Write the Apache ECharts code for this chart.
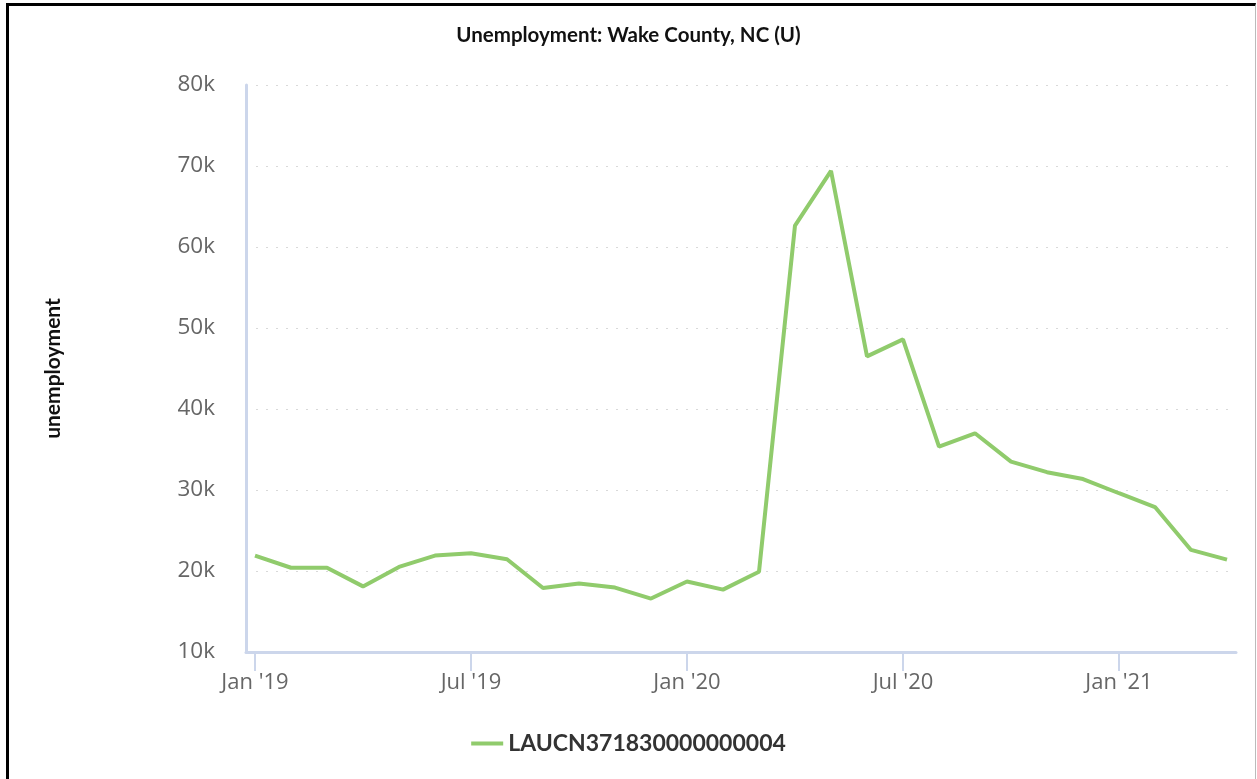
<!DOCTYPE html>
<html>
<head>
<meta charset="utf-8">
<script src="https://cdn.jsdelivr.net/npm/echarts@6/dist/echarts.min.js"></script>
<style>
html,body{margin:0;padding:0;background:#fff;}
#chart{position:absolute;left:0;top:0;width:1257px;height:779px;}
#frame{position:absolute;left:6px;top:3px;width:1246px;height:800px;border-left:3px solid #000;border-top:3px solid #000;border-right:1px solid #bbb;pointer-events:none;}
</style>
</head>
<body>
<div id="chart"></div>
<div id="frame"></div>
<script>
const months = ["Jan '19","Feb '19","Mar '19","Apr '19","May '19","Jun '19","Jul '19","Aug '19","Sep '19","Oct '19","Nov '19","Dec '19",
  "Jan '20","Feb '20","Mar '20","Apr '20","May '20","Jun '20","Jul '20","Aug '20","Sep '20","Oct '20","Nov '20","Dec '20",
  "Jan '21","Feb '21","Mar '21","Apr '21"];
const unemployment = [21900,20400,20400,18100,20500,21900,22200,21450,17900,18450,17950,16600,
  18700,17700,19900,62650,69400,46500,48600,35350,37000,33500,32200,31350,
  29600,27900,22600,21400];
const xTickIndex = [0,6,12,18,24];
const seriesName = "LAUCN371830000000004";

const chart = echarts.init(document.getElementById('chart'), null, {renderer:'canvas'});
const boldFam = "Lato, 'Open Sans', sans-serif";
const tickFam = "'Open Sans', sans-serif";
chart.setOption({
  animation:false,
  title:{text:"Unemployment: Wake County, NC (U)", left:'center', top:20,
    textStyle:{fontFamily:boldFam, fontSize:20.5, fontWeight:'bold', color:'#111'}},
  legend:{bottom:19, left:'center', itemWidth:32, itemHeight:4, itemGap:10,
    icon:'rect',
    textStyle:{fontFamily:boldFam, fontSize:23, fontWeight:'bold', color:'#333'},
    data:[seriesName]},
  grid:{left:246, right:21, top:85, bottom:127, containLabel:false},
  xAxis:{type:'value', min:-0.25, max:27.25,
    axisLine:{show:true, onZero:false, lineStyle:{color:'#ccd6eb', width:3}},
    axisTick:{show:true, customValues:xTickIndex, length:19, lineStyle:{color:'#ccd6eb', width:2}},
    axisLabel:{customValues:xTickIndex, formatter:v=>months[Math.round(v)], margin:20,
      fontFamily:tickFam, fontSize:22, color:'#666'},
    splitLine:{show:false}},
  yAxis:{type:'value', min:10000, max:80000, interval:10000,
    name:'unemployment', nameLocation:'middle', nameGap:182, nameRotate:90,
    nameTextStyle:{fontFamily:boldFam, fontSize:21, fontWeight:'bold', color:'#111'},
    axisLine:{show:true, onZero:false, lineStyle:{color:'#ccd6eb', width:3}},
    axisTick:{show:false},
    axisLabel:{formatter:v=>(v/1000)+'k', margin:31, fontFamily:tickFam, fontSize:22.5, color:'#666'},
    splitLine:{show:true, lineStyle:{color:'#d9d9d9', type:[2,8], width:1}}},
  series:[{name:seriesName, type:'line', showSymbol:false, symbol:'none',
    lineStyle:{color:'#90cb6c', width:4}, itemStyle:{color:'#90cb6c'},
    data:unemployment.map((v,i)=>[i,v])}]
});
</script>
</body>
</html>
